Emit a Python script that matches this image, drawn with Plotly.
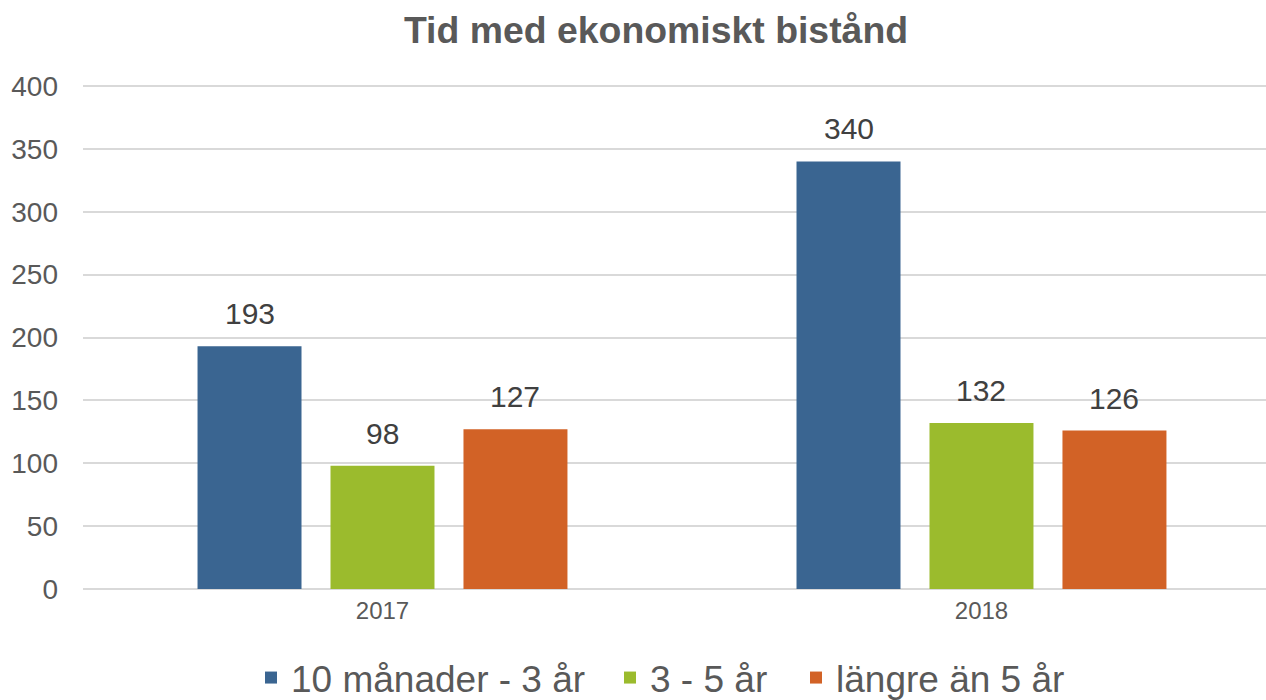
import plotly.graph_objects as go

categories = ["2017", "2018"]
series_names = ["10 månader - 3 år", "3 - 5 år", "längre än 5 år"]
values_10m_3y = [193, 340]
values_3_5y = [98, 132]
values_over_5y = [127, 126]
colors = ["#3A6591", "#9BBB2D", "#D26226"]
y_ticks = [0, 50, 100, 150, 200, 250, 300, 350, 400]

all_values = [values_10m_3y, values_3_5y, values_over_5y]

FONT = "Liberation Sans, Arial, sans-serif"
legend_ids = ["legend", "legend2", "legend3"]
legend_text_x = [291, 650, 836]

fig = go.Figure()
for name, vals, col, lid in zip(series_names, all_values, colors, legend_ids):
    fig.add_trace(go.Bar(
        x=categories, y=vals, name=name, legend=lid,
        marker=dict(color=col, line=dict(width=0)),
    ))

bargap = 0.334
slot_px = 599 * (1 - bargap) / 3
for i, vals in enumerate(all_values):
    for j, v in enumerate(vals):
        fig.add_annotation(
            x=j, y=v, xref="x", yref="y", text=str(v), showarrow=False,
            xshift=(i - 1) * slot_px, yshift=14, yanchor="bottom",
            font=dict(family=FONT, size=30, color="#404040"),
        )

legend_common = dict(orientation="h", xanchor="left", xref="container",
                     y=1 - 678 / 700, yanchor="middle", yref="container",
                     font=dict(family=FONT, size=37, color="#595959"), itemclick=False,
                     bgcolor="rgba(0,0,0,0)")
legends = {}
for lid, tx in zip(legend_ids, legend_text_x):
    legends[lid] = dict(legend_common, x=(tx - 40) / 1266)

fig.update_layout(
    width=1266, height=700,
    paper_bgcolor="white", plot_bgcolor="white",
    margin=dict(l=83, r=0, t=81, b=111, autoexpand=False),
    barmode="group", bargap=bargap, bargroupgap=0.218,
    title=dict(text="<b>Tid med ekonomiskt bistånd</b>", x=656 / 1266, xanchor="center",
               xref="container", yref="container", y=1 - 30 / 700, yanchor="middle",
               font=dict(family=FONT, size=37.4, color="#595959")),
    font=dict(family=FONT, color="#595959"),
    showlegend=True,
    **legends,
)
fig.update_xaxes(type="category", range=[-0.5, 1.475], showgrid=False, showline=False, ticks="",
                 tickfont=dict(family=FONT, size=24, color="#595959"),
                 ticklabelstandoff=5)
fig.update_yaxes(range=[0, 404], tickvals=y_ticks, showgrid=True, gridcolor="#D9D9D9",
                 gridwidth=2, zeroline=True, zerolinecolor="#D9D9D9", zerolinewidth=2,
                 showline=False, ticks="",
                 tickfont=dict(family=FONT, size=28, color="#595959"),
                 ticklabelstandoff=24)

fig.write_html("out.html", config={"displayModeBar": False},
               post_script="document.body.style.margin='0';")
